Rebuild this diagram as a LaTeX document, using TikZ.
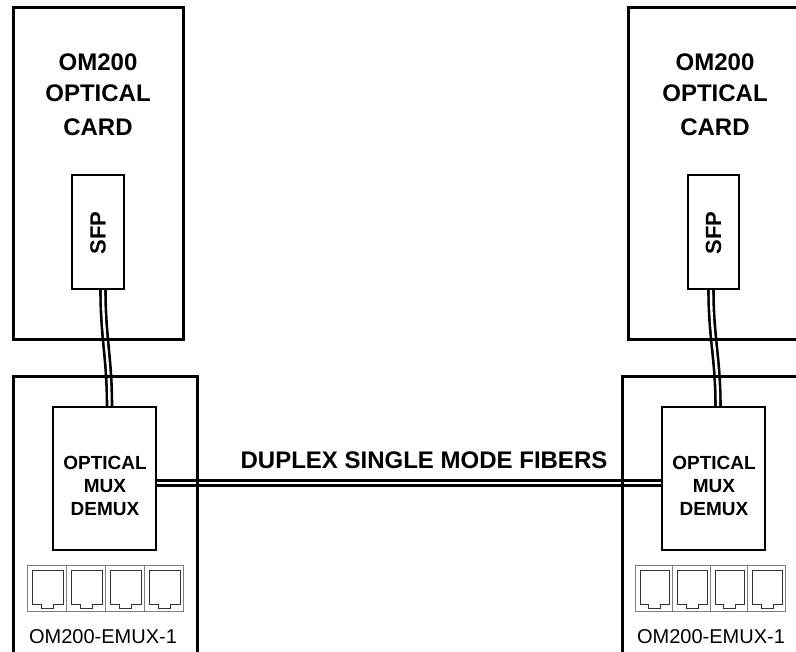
\documentclass[tikz,border=0pt]{standalone}
\usepackage{fontspec}
\setmainfont{Liberation Sans}
\usetikzlibrary{calc,backgrounds}

\tikzset{
  card/.style={draw, line width=3pt, inner sep=0pt, outer sep=0pt},
  unit/.style={draw, line width=1.5pt, inner sep=0pt, outer sep=0pt},
  fiber/.style={line width=2.6pt, double=white, double distance=2.4pt},
  portcell/.style={draw=gray, line width=0.8pt},
  jack/.style={draw=black!80, line width=0.9pt},
  cardtext/.style={font=\bfseries\fontsize{24}{31}\selectfont, align=center},
  muxtext/.style={font=\bfseries\fontsize{19}{23}\selectfont, align=center},
}

\begin{document}
\begin{tikzpicture}[x=1pt, y=-1pt]
  \useasboundingbox (0,0) rectangle (796,652);
  \clip (0,0) rectangle (796,652);

  % Cards
  \node[card, minimum width=170pt, minimum height=332pt] (leftcard) at (98,174) {};
  \node[card, minimum width=182pt, minimum height=332pt] (rightcard) at (719,174) {};
  \node[cardtext, anchor=north] (leftcardlabel) at (98,50) {OM200\\OPTICAL\\[3pt]CARD};
  \node[cardtext, anchor=north] (rightcardlabel) at (715,50) {OM200\\OPTICAL\\[3pt]CARD};

  % SFP modules
  \node[unit, minimum width=52pt, minimum height=114pt] (leftsfp) at (98,232) {};
  \node[unit, minimum width=51pt, minimum height=114pt] (rightsfp) at (713.5,232) {};
  \node[cardtext, font=\bfseries\fontsize{22}{26}\selectfont, rotate=90] (leftsfplabel) at (98,233) {SFP};
  \node[cardtext, font=\bfseries\fontsize{22}{26}\selectfont, rotate=90] (rightsfplabel) at (713.5,233) {SFP};

  % EMUX chassis
  \node[card, minimum width=184pt, minimum height=293pt] (leftemux) at (105,523.5) {};
  \node[card, minimum width=184pt, minimum height=293pt] (rightemux) at (714,523.5) {};
  \node[font=\fontsize{20}{24}\selectfont] (leftemuxlabel) at (103,637) {OM200-EMUX-1};
  \node[font=\fontsize{20}{24}\selectfont] (rightemuxlabel) at (711,637) {OM200-EMUX-1};

  % Mux / demux
  \node[unit, minimum width=103pt, minimum height=143pt] (leftmux) at (104.5,478.5) {};
  \node[unit, minimum width=103pt, minimum height=143pt] (rightmux) at (713.5,478.5) {};
  \node[muxtext] (leftmuxlabel) at (105,486) {OPTICAL\\MUX\\DEMUX};
  \node[muxtext] (rightmuxlabel) at (714,486) {OPTICAL\\MUX\\DEMUX};

  % Ports
  \foreach \x in {27,66,105,144} {
    \draw[portcell] (\x,565) rectangle ++(39,46);
    \draw[jack] (\x+5,570) -- ++(31,0) -- ++(0,34) -- ++(-10,0) -- ++(0,4)
      -- ++(-12,0) -- ++(0,-4) -- ++(-9,0) -- cycle;
  }
  \foreach \x in {635,672.5,710,747.5} {
    \draw[portcell] (\x,565) rectangle ++(37.5,46);
    \draw[jack] (\x+5,570) -- ++(29.5,0) -- ++(0,34) -- ++(-9,0) -- ++(0,4)
      -- ++(-12,0) -- ++(0,-4) -- ++(-8.5,0) -- cycle;
  }

  % Fibers
  \begin{scope}[on background layer]
    \draw[fiber] ([xshift=5pt]leftsfp.south) .. controls +(0,50) and +(0,-50) .. ([xshift=5pt]leftmux.north);
    \draw[fiber] ([xshift=-2.5pt]rightsfp.south) .. controls +(0,50) and +(0,-50) .. ([xshift=4.5pt]rightmux.north);
    \draw[fiber] ([yshift=-4.5pt]leftmux.east) -- ([yshift=-4.5pt]rightmux.west);
  \end{scope}
  \node[cardtext] (fiberlabel) at (424,460) {DUPLEX SINGLE MODE FIBERS};
\end{tikzpicture}
\end{document}
